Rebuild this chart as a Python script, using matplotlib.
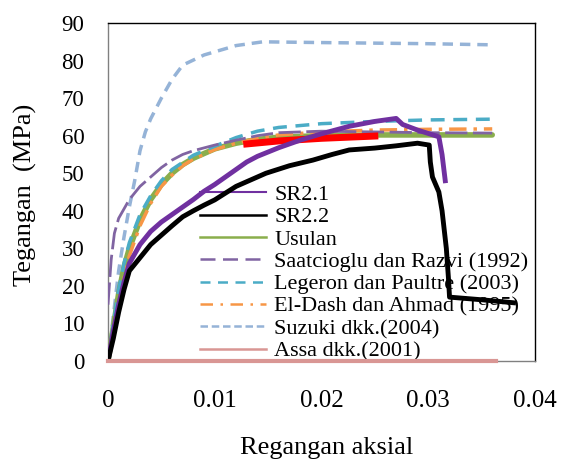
import matplotlib
matplotlib.use("Agg")
import matplotlib.pyplot as plt
from matplotlib.lines import Line2D

plt.rcParams['font.family'] = ['Liberation Serif', 'DejaVu Serif']

# data
sr21_x = [0, 0.0005, 0.001, 0.0015, 0.002, 0.003, 0.004, 0.005, 0.006, 0.007, 0.008, 0.009,
          0.010, 0.011, 0.012, 0.013, 0.014, 0.016, 0.018, 0.020, 0.0226, 0.025, 0.027,
          0.0276, 0.029, 0.031, 0.0313, 0.0316]
sr21_y = [0, 8, 15, 21, 26, 31, 34.5, 37, 39, 41, 43, 45.2, 47, 49, 51, 53, 54.5, 56.8,
          58.8, 60.5, 62.5, 63.8, 64.6, 63, 61.5, 59.7, 55, 48]

sr22_x = [0, 0.0005, 0.001, 0.0015, 0.002, 0.003, 0.004, 0.005, 0.006, 0.007, 0.008, 0.009,
          0.010, 0.012, 0.0148, 0.017, 0.0192, 0.021, 0.0226, 0.025, 0.027, 0.029, 0.0301,
          0.0302, 0.0304, 0.031, 0.0313, 0.0317, 0.0319, 0.032, 0.035, 0.038]
sr22_y = [0, 6, 13, 19, 24, 27.5, 31, 33.5, 36, 38.4, 40, 41.5, 42.9, 46.5, 50, 52, 53.5,
          55, 56.2, 56.7, 57.3, 58, 57.5, 53, 49, 45, 40, 30, 22, 17, 16.3, 15.5]

usulan_x = [0, 0.0005, 0.001, 0.0015, 0.002, 0.003, 0.004, 0.005, 0.006, 0.007, 0.008,
            0.010, 0.012, 0.014, 0.016, 0.020, 0.025, 0.036]
usulan_y = [0, 9, 18, 25, 30, 37.5, 43, 47, 50, 52.3, 54, 56.5, 58, 59, 59.6, 60, 60.2, 60.2]

saat_x = [0, 0.0003, 0.0006, 0.001, 0.002, 0.003, 0.004, 0.005, 0.006, 0.007, 0.008,
          0.010, 0.012, 0.014, 0.016, 0.020, 0.025, 0.030, 0.036]
saat_y = [15, 27, 34, 38, 43, 46.5, 49, 51.5, 53.5, 55, 56, 57.5, 58.8, 60, 60.8, 61.2,
          61, 60.8, 60.7]

leg_x = [0, 0.0005, 0.001, 0.0015, 0.002, 0.003, 0.004, 0.005, 0.006, 0.008, 0.010,
         0.012, 0.014, 0.016, 0.020, 0.025, 0.030, 0.036]
leg_y = [0, 10, 19, 26, 31.5, 39, 44, 48, 51, 54.8, 57.2, 59.5, 61.2, 62.2, 63.2, 63.8,
         64.2, 64.4]

dash_x = [0, 0.0005, 0.001, 0.0015, 0.002, 0.003, 0.004, 0.005, 0.006, 0.007, 0.008,
          0.010, 0.012, 0.014, 0.016, 0.020, 0.025, 0.030, 0.036]
dash_y = [0, 7, 15, 22, 28, 36, 42, 46.5, 49.5, 52, 53.8, 56.3, 58, 59.3, 60.2, 61, 61.5,
          61.7, 61.8]

suzuki_x = [0, 0.0005, 0.001, 0.0015, 0.002, 0.0025, 0.003, 0.0035, 0.004, 0.005, 0.006,
            0.007, 0.009, 0.012, 0.0145, 0.020, 0.030, 0.036]
suzuki_y = [0, 12, 24, 33, 41, 48, 56, 61, 64.5, 70, 75, 78.8, 81.5, 84, 85, 84.8, 84.5, 84.2]

assa_x = [0, 0.0364]
assa_y = [0, 0]

red_x = [0.013, 0.016, 0.020, 0.025]
red_y = [57.8, 58.6, 59.3, 59.9]

labels = ['SR2.1', 'SR2.2', 'Usulan', 'Saatcioglu dan Razvi (1992)',
          'Legeron dan Paultre (2003)', 'El-Dash dan Ahmad (1995)',
          'Suzuki dkk.(2004)', 'Assa dkk.(2001)']

c_sr21 = '#7030A0'
c_usulan = '#8AAE4C'
c_saat = '#8064A2'
c_leg = '#4BACC6'
c_dash = '#F79646'
c_suz = '#95B3D7'
c_assa = '#D99694'

fig = plt.figure(figsize=(5.61, 4.61), dpi=100)
ax = fig.add_axes([0.1925, 0.217, 0.761, 0.733])

ax.plot(suzuki_x, suzuki_y, color=c_suz, lw=2.5, ls=(0, (3, 2)), zorder=3)
ax.plot(usulan_x, usulan_y, color=c_usulan, lw=4, solid_capstyle='round', zorder=3)
ax.plot(dash_x, dash_y, color=c_dash, lw=2.5, ls=(0, (5, 2, 1, 2)), zorder=3)
ax.plot(leg_x, leg_y, color=c_leg, lw=2.5, ls=(0, (4, 2.5)), zorder=3)
ax.plot(saat_x, saat_y, color=c_saat, lw=2, ls=(0, (8, 2)), zorder=3)
ax.plot(red_x, red_y, color='#FF0000', lw=5, zorder=4)
ax.plot(sr21_x, sr21_y, color=c_sr21, lw=3.5, zorder=5)
ax.plot(sr22_x, sr22_y, color='black', lw=3.5, zorder=5)
ax.plot(assa_x, assa_y, color=c_assa, lw=3, zorder=5, clip_on=False)

# legend handles (thinner lines like the reference)
handles = [
    Line2D([], [], color=c_sr21, lw=1.5),
    Line2D([], [], color='black', lw=1.8),
    Line2D([], [], color=c_usulan, lw=1.8),
    Line2D([], [], color=c_saat, lw=1.8, ls=(0, (6, 3))),
    Line2D([], [], color=c_leg, lw=1.8, ls=(0, (4, 3))),
    Line2D([], [], color=c_dash, lw=1.8, ls=(0, (5, 3, 1, 3))),
    Line2D([], [], color=c_suz, lw=1.8, ls=(0, (3, 1.5))),
    Line2D([], [], color=c_assa, lw=1.8),
]
leg = ax.legend(handles, labels, loc='upper left', bbox_to_anchor=(0.215, 0.522),
                frameon=False, fontsize=16, handlelength=3.0, handletextpad=0.35,
                labelspacing=0.08, borderaxespad=0, borderpad=0)
leg.set_zorder(2)

ax.set_xlim(0, 0.04)
ax.set_ylim(0, 90)
ax.set_xticks([0, 0.01, 0.02, 0.03, 0.04])
ax.set_xticklabels(['0', '0.01', '0.02', '0.03', '0.04'])
ax.set_yticks(range(0, 91, 10))
ax.tick_params(length=0)
ax.tick_params(axis='y', labelsize=16.5, pad=17)
ax.tick_params(axis='x', labelsize=18, pad=21)

fig.text(327 / 561, 1 - 448 / 461, 'Regangan aksial', fontsize=19, ha='center', va='center')
fig.text(25 / 561, 1 - 195 / 461, 'Tegangan  (MPa)', fontsize=19, rotation=90,
         ha='center', va='center')

for s in ax.spines.values():
    s.set_color('#808080')
    s.set_linewidth(1)
ax.spines['top'].set_color('black')
ax.spines['right'].set_color('black')

fig.savefig('out.png', dpi=100)
